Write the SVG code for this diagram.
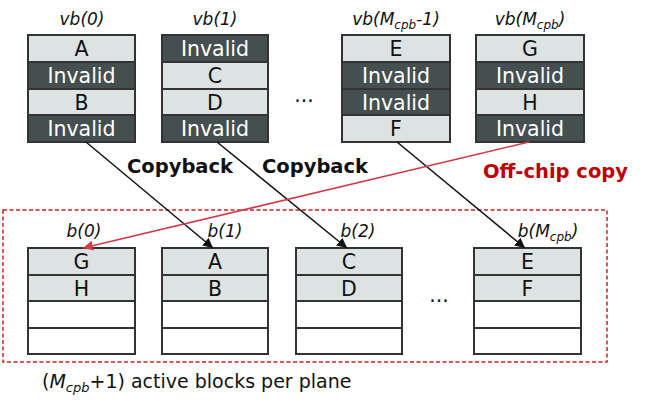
<svg xmlns="http://www.w3.org/2000/svg" width="664" height="409" viewBox="0 0 664 409">
<style>
.l{fill:#dde3e3;stroke:#333;stroke-width:2}
.d{fill:#454f4f;stroke:#333;stroke-width:2}
.e{fill:#fff;stroke:#333;stroke-width:2}
.t{font-family:"DejaVu Sans",Verdana,sans-serif;font-size:20.5px;text-anchor:middle}
.tl{fill:#111}
.tw{fill:#fff}
.lab{font-family:"DejaVu Sans",Verdana,sans-serif;font-size:17px;font-style:italic;text-anchor:middle;fill:#111}
.sub{font-size:12px}
.bold{font-family:"DejaVu Sans",Verdana,sans-serif;font-size:19.5px;font-weight:bold}
</style>
<defs>
<marker id="ab" viewBox="0 0 10 10" refX="10" refY="5" markerWidth="10" markerHeight="10" markerUnits="userSpaceOnUse" orient="auto"><path d="M0,0 L10,5 L0,10 z" fill="#111"/></marker>
<marker id="ar" viewBox="0 0 10 10" refX="10" refY="5" markerWidth="10" markerHeight="10" markerUnits="userSpaceOnUse" orient="auto"><path d="M0,0 L10,5 L0,10 z" fill="#d03a4a"/></marker>
</defs>
<rect x="3" y="210" width="604" height="152" fill="none" stroke="#d02020" stroke-width="1.5" stroke-dasharray="4,2.5"/>
<g id="vb0">
<text class="lab" x="82" y="25">vb(0)</text>
<rect class="l" x="28" y="35" width="107" height="27"/><text class="t tl" x="81.5" y="56">A</text>
<rect class="d" x="28" y="62" width="107" height="27"/><text class="t tw" x="81.5" y="83">Invalid</text>
<rect class="l" x="28" y="89" width="107" height="26"/><text class="t tl" x="81.5" y="109.5">B</text>
<rect class="d" x="28" y="115" width="107" height="27"/><text class="t tw" x="81.5" y="136">Invalid</text>
</g>
<g id="vb1">
<text class="lab" x="215" y="25">vb(1)</text>
<rect class="d" x="162" y="35" width="106" height="27"/><text class="t tw" x="215" y="56">Invalid</text>
<rect class="l" x="162" y="62" width="106" height="27"/><text class="t tl" x="215" y="83">C</text>
<rect class="l" x="162" y="89" width="106" height="26"/><text class="t tl" x="215" y="109.5">D</text>
<rect class="d" x="162" y="115" width="106" height="27"/><text class="t tw" x="215" y="136">Invalid</text>
</g>
<text class="t tl" x="304" y="102">...</text>
<g id="vbM1">
<text class="lab" x="396" y="25">vb(M<tspan class="sub" dy="4">cpb</tspan><tspan dy="-4">-1)</tspan></text>
<rect class="l" x="342" y="35" width="108" height="27"/><text class="t tl" x="396" y="56">E</text>
<rect class="d" x="342" y="62" width="108" height="27"/><text class="t tw" x="396" y="83">Invalid</text>
<rect class="d" x="342" y="89" width="108" height="26"/><text class="t tw" x="396" y="109.5">Invalid</text>
<rect class="l" x="342" y="115" width="108" height="27"/><text class="t tl" x="396" y="136">F</text>
</g>
<g id="vbM">
<text class="lab" x="530" y="25">vb(M<tspan class="sub" dy="4">cpb</tspan><tspan dy="-4">)</tspan></text>
<rect class="l" x="476" y="35" width="108" height="27"/><text class="t tl" x="530" y="56">G</text>
<rect class="d" x="476" y="62" width="108" height="27"/><text class="t tw" x="530" y="83">Invalid</text>
<rect class="l" x="476" y="89" width="108" height="26"/><text class="t tl" x="530" y="109.5">H</text>
<rect class="d" x="476" y="115" width="108" height="27"/><text class="t tw" x="530" y="136">Invalid</text>
</g>
<g id="b0">
<text class="lab" x="84" y="237">b(0)</text>
<rect class="l" x="28" y="248" width="107" height="27"/><text class="t tl" x="81.5" y="269">G</text>
<rect class="l" x="28" y="275" width="107" height="26"/><text class="t tl" x="81.5" y="295.5">H</text>
<rect class="e" x="28" y="301" width="107" height="27"/>
<rect class="e" x="28" y="328" width="107" height="26"/>
</g>
<g id="b1">
<text class="lab" x="225" y="237">b(1)</text>
<rect class="l" x="162" y="248" width="106" height="27"/><text class="t tl" x="215" y="269">A</text>
<rect class="l" x="162" y="275" width="106" height="26"/><text class="t tl" x="215" y="295.5">B</text>
<rect class="e" x="162" y="301" width="106" height="27"/>
<rect class="e" x="162" y="328" width="106" height="26"/>
</g>
<g id="b2">
<text class="lab" x="358" y="237">b(2)</text>
<rect class="l" x="296" y="248" width="106" height="27"/><text class="t tl" x="349" y="269">C</text>
<rect class="l" x="296" y="275" width="106" height="26"/><text class="t tl" x="349" y="295.5">D</text>
<rect class="e" x="296" y="301" width="106" height="27"/>
<rect class="e" x="296" y="328" width="106" height="26"/>
</g>
<text class="t tl" x="439" y="302">...</text>
<g id="bM">
<text class="lab" x="548" y="237">b(M<tspan class="sub" dy="4">cpb</tspan><tspan dy="-4">)</tspan></text>
<rect class="l" x="474" y="248" width="107" height="27"/><text class="t tl" x="527.5" y="269">E</text>
<rect class="l" x="474" y="275" width="107" height="26"/><text class="t tl" x="527.5" y="295.5">F</text>
<rect class="e" x="474" y="301" width="107" height="27"/>
<rect class="e" x="474" y="328" width="107" height="26"/>
</g>
<g id="connectors" fill="none" stroke-width="1.5">
<line x1="86" y1="142" x2="213" y2="248" stroke="#111" marker-end="url(#ab)"/>
<line x1="217" y1="142" x2="347" y2="248" stroke="#111" marker-end="url(#ab)"/>
<line x1="397" y1="142" x2="525" y2="248" stroke="#111" marker-end="url(#ab)"/>
<line x1="529" y1="142" x2="83" y2="248" stroke="#d03a4a" marker-end="url(#ar)"/>
</g>
<text class="bold" x="127" y="173" fill="#111">Copyback</text>
<text class="bold" x="262" y="173" fill="#111">Copyback</text>
<text class="bold" x="483" y="178" fill="#c00000">Off-chip copy</text>
<text font-family="DejaVu Sans,Verdana,sans-serif" font-size="19" x="42" y="388" fill="#111">(<tspan font-style="italic">M</tspan><tspan font-style="italic" font-size="13" dy="4">cpb</tspan><tspan dy="-4">+1) active blocks per plane</tspan></text>
</svg>
